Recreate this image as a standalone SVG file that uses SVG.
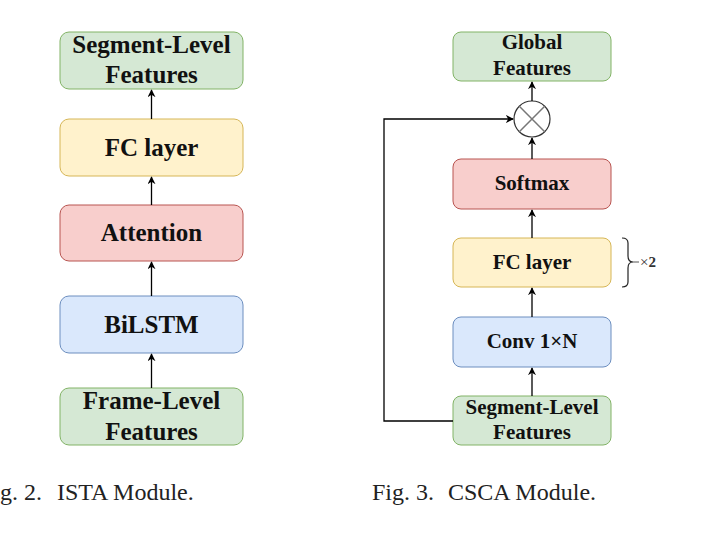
<svg xmlns="http://www.w3.org/2000/svg" width="721" height="535" viewBox="0 0 721 535">
<defs>
<marker id="arr" viewBox="0 0 10 10" refX="9" refY="5" markerWidth="8" markerHeight="8" markerUnits="userSpaceOnUse" orient="auto">
<path d="M0,0 L10,5 L0,10 L3,5 Z" fill="#000"/>
</marker>
</defs>
<style>
.g{fill:#d5e8d4;stroke:#82b366;stroke-width:1}
.y{fill:#fff2cc;stroke:#d6b656;stroke-width:1}
.r{fill:#f8cecc;stroke:#b85450;stroke-width:1}
.b{fill:#dae8fc;stroke:#6c8ebf;stroke-width:1}
.t{font-family:"Liberation Serif","Times New Roman",serif;font-weight:bold;fill:#111;text-anchor:middle}
.t1{font-size:25px}
.t2{font-size:21px}
.cap{font-family:"Liberation Serif","Times New Roman",serif;font-size:24px;fill:#222}
.c{stroke:#000;stroke-width:1.3;fill:none}
</style>
<rect width="721" height="535" fill="#fff"/>
<g id="ista-segment"><rect class="g" x="60" y="32" width="183" height="57" rx="9"/><text class="t t1" x="151.5" y="53">Segment-Level</text><text class="t t1" x="151.5" y="83">Features</text></g>
<g id="ista-fc"><rect class="y" x="60" y="119" width="183" height="57" rx="9"/><text class="t t1" x="151.5" y="156">FC layer</text></g>
<g id="ista-attention"><rect class="r" x="60" y="205" width="183" height="56" rx="9"/><text class="t t1" x="151.5" y="241">Attention</text></g>
<g id="ista-bilstm"><rect class="b" x="60" y="296" width="183" height="57" rx="9"/><text class="t t1" x="151.5" y="333">BiLSTM</text></g>
<g id="ista-frame"><rect class="g" x="60" y="388" width="183" height="57" rx="9"/><text class="t t1" x="151.5" y="409">Frame-Level</text><text class="t t1" x="151.5" y="440">Features</text></g>
<g id="csca-global"><rect class="g" x="453" y="32" width="158" height="49" rx="8"/><text class="t t2" x="532" y="49">Global</text><text class="t t2" x="532" y="75">Features</text></g>
<g id="csca-mult"><circle cx="532" cy="119" r="18" fill="#fff" stroke="#333" stroke-width="1.2"/><path d="M519.3,106.3 L544.7,131.7 M544.7,106.3 L519.3,131.7" stroke="#777" stroke-width="1.5"/></g>
<g id="csca-softmax"><rect class="r" x="453" y="159" width="158" height="50" rx="8"/><text class="t t2" x="532" y="190">Softmax</text></g>
<g id="csca-fc"><rect class="y" x="453" y="238" width="158" height="49" rx="8"/><text class="t t2" x="532" y="269">FC layer</text></g>
<g id="csca-conv"><rect class="b" x="453" y="317" width="158" height="50" rx="8"/><text class="t t2" x="532" y="348">Conv 1×N</text></g>
<g id="csca-segment"><rect class="g" x="453" y="396" width="158" height="49" rx="8"/><text class="t t2" x="532" y="414">Segment-Level</text><text class="t t2" x="532" y="439">Features</text></g>
<g id="connectors">
<path class="c" d="M151.5,119 L151.5,90" marker-end="url(#arr)"/>
<path class="c" d="M151.5,205 L151.5,177" marker-end="url(#arr)"/>
<path class="c" d="M151.5,296 L151.5,262" marker-end="url(#arr)"/>
<path class="c" d="M151.5,388 L151.5,354" marker-end="url(#arr)"/>
<path class="c" d="M532,101 L532,82" marker-end="url(#arr)"/>
<path class="c" d="M532,159 L532,138" marker-end="url(#arr)"/>
<path class="c" d="M532,238 L532,210" marker-end="url(#arr)"/>
<path class="c" d="M532,317 L532,288" marker-end="url(#arr)"/>
<path class="c" d="M532,396 L532,368" marker-end="url(#arr)"/>
<path class="c" d="M453,421 L384,421 L384,119 L513,119" marker-end="url(#arr)"/>
</g>
<g id="brace">
<path d="M622,238 Q628,238 628,243 L628,256 Q628,262 633,262 Q628,262 628,268 L628,282 Q628,287 622,287" fill="none" stroke="#222" stroke-width="1.2"/>
<path d="M633,262 L639,262" stroke="#555" stroke-width="1"/>
<text x="640" y="267" font-family="Liberation Serif, serif" font-size="15" fill="#333">×<tspan font-weight="bold">2</tspan></text>
</g>
<text class="cap" x="0" y="500">g. 2.</text>
<text class="cap" x="57" y="500">ISTA Module.</text>
<text class="cap" x="372" y="500">Fig. 3.</text>
<text class="cap" x="448" y="500">CSCA Module.</text>
</svg>
